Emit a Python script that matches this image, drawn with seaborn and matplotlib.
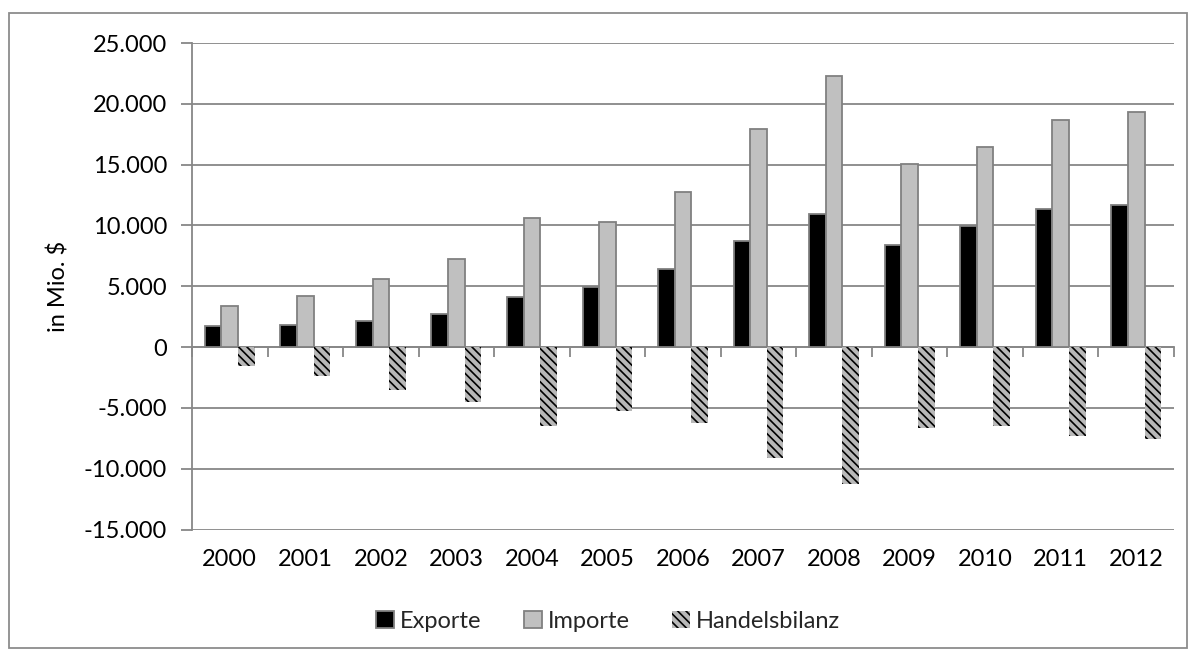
import matplotlib
matplotlib.use("Agg")
import matplotlib.pyplot as plt
import matplotlib.ticker as mticker
from matplotlib.patches import Rectangle
import numpy as np
import pandas as pd
import seaborn as sns

years = ["2000", "2001", "2002", "2003", "2004", "2005", "2006",
         "2007", "2008", "2009", "2010", "2011", "2012"]
exporte = [1750, 1780, 2110, 2740, 4080, 4900, 6410, 8740, 10940, 8360, 9920, 11350, 11700]
importe = [3340, 4220, 5620, 7240, 10580, 10250, 12720, 17900, 22250, 15080, 16420, 18640, 19300]
handelsbilanz = [-1590, -2390, -3510, -4500, -6470, -5290, -6250, -9130, -11240, -6660, -6470, -7350, -7540]
series_names = ["Exporte", "Importe", "Handelsbilanz"]
y_ticks = [-15000, -10000, -5000, 0, 5000, 10000, 15000, 20000, 25000]
y_label = "in Mio. $"

df = pd.DataFrame({
    "Jahr": years * 3,
    "Wert": exporte + importe + handelsbilanz,
    "Serie": [s for s in series_names for _ in years],
})

sns.set_theme(style="white")
plt.rcParams["font.family"] = ["Lato", "DejaVu Sans"]
plt.rcParams["hatch.linewidth"] = 1.2

GRID = "#878787"
FS = 17
fig = plt.figure(figsize=(11.9, 6.52), dpi=100)
fig.patch.set_facecolor("white")
ax = fig.add_axes([192 / 1190, 1 - 529.5 / 652, (1174 - 192) / 1190, (529.5 - 43) / 652])

palette = {"Exporte": "#000000", "Importe": "#c0c0c0", "Handelsbilanz": "#b8b8b8"}
sns.barplot(data=df, x="Jahr", y="Wert", hue="Serie", hue_order=series_names,
            palette=palette, width=0.66, gap=0, saturation=1, ax=ax,
            legend=False, errorbar=None)

for i, cont in enumerate(ax.containers):
    for p in cont.patches:
        if i < 2:
            p.set_edgecolor("#808080")
            p.set_linewidth(1.3)
        else:
            p.set_hatch("\\\\\\\\")
            p.set_edgecolor("black")
            p.set_linewidth(0)
        p.set_zorder(3)

ax.set_ylim(-15000, 25000)
ax.set_xlim(-0.5, len(years) - 0.5)
ax.set_yticks(y_ticks)
ax.yaxis.set_major_formatter(mticker.FuncFormatter(lambda v, _: f"{int(v):,}".replace(",", ".")))
ax.grid(axis="y", color=GRID, linewidth=1.3, zorder=0)
ax.set_axisbelow(True)

for s in ["top", "right", "bottom"]:
    ax.spines[s].set_visible(False)
ax.spines["left"].set_color(GRID)
ax.spines["left"].set_linewidth(1.3)
ax.tick_params(axis="y", direction="out", length=8, width=1.3, color=GRID,
               labelsize=FS, labelcolor="black", pad=10, left=True)
ax.tick_params(axis="x", length=0, labelsize=FS, labelcolor="black", pad=14)
ax.set_xlabel("")
ax.set_ylabel(y_label, fontsize=FS, color="black", labelpad=10)

# zero axis with category boundary ticks
zero_pos = (0 - (-15000)) / (25000 - (-15000))
sec = ax.secondary_xaxis(zero_pos)
sec.set_xticks(np.arange(-0.5, len(years), 1.0))
sec.set_xticklabels([])
sec.tick_params(direction="out", length=7, width=1.3, color=GRID)
sec.spines["bottom"].set_color(GRID)
sec.spines["bottom"].set_linewidth(1.3)
sec.spines["bottom"].set_zorder(4)
for s in ["top", "left", "right"]:
    sec.spines[s].set_visible(False)

leg = fig.legend(ax.containers, series_names, loc="center",
                 bbox_to_anchor=(608 / 1190, 1 - 621 / 652), ncol=3, frameon=False,
                 fontsize=FS, handlelength=0.75, handleheight=0.75,
                 handletextpad=0.25, columnspacing=1.8)

fig.patches.append(Rectangle((9 / 1190, 1 - 648 / 652), (1187 - 9) / 1190, (648 - 13) / 652,
                             transform=fig.transFigure, fill=False,
                             edgecolor="#8c8c8c", linewidth=1.3))

fig.savefig("out.png", dpi=100, facecolor="white")
